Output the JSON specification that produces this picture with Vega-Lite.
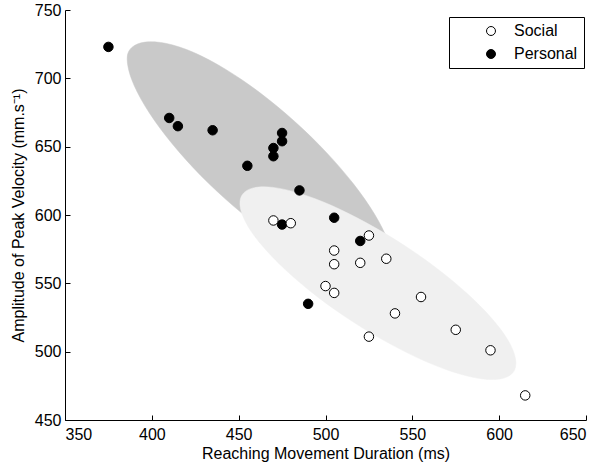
{
  "$schema": "https://vega.github.io/schema/vega-lite/v6.json",
  "description": "Reaching movement duration vs amplitude of peak velocity, social vs personal",
  "autosize": {"type": "none"},
  "padding": {"left": 65, "top": 10, "right": 20, "bottom": 50},
  "width": 521,
  "height": 410,
  "background": "white",
  "config": {
    "view": {"stroke": null},
    "font": "Liberation Sans",
    "axis": {
      "domainColor": "#000000",
      "domainWidth": 1,
      "tickColor": "#000000",
      "tickSize": -5,
      "labelColor": "#000000",
      "labelFontSize": 16,
      "titleFontSize": 16,
      "titleFontWeight": "normal",
      "titleColor": "#000000",
      "grid": false
    }
  },
  "datasets": {
    "points": [
      {"duration": 375, "velocity": 723, "condition": "Personal"},
      {"duration": 410, "velocity": 671, "condition": "Personal"},
      {"duration": 415, "velocity": 665, "condition": "Personal"},
      {"duration": 435, "velocity": 662, "condition": "Personal"},
      {"duration": 455, "velocity": 636, "condition": "Personal"},
      {"duration": 470, "velocity": 649, "condition": "Personal"},
      {"duration": 470, "velocity": 643, "condition": "Personal"},
      {"duration": 475, "velocity": 660, "condition": "Personal"},
      {"duration": 475, "velocity": 654, "condition": "Personal"},
      {"duration": 485, "velocity": 618, "condition": "Personal"},
      {"duration": 505, "velocity": 598, "condition": "Personal"},
      {"duration": 520, "velocity": 581, "condition": "Personal"},
      {"duration": 475, "velocity": 593, "condition": "Personal"},
      {"duration": 490, "velocity": 535, "condition": "Personal"},
      {"duration": 470, "velocity": 596, "condition": "Social"},
      {"duration": 480, "velocity": 594, "condition": "Social"},
      {"duration": 525, "velocity": 585, "condition": "Social"},
      {"duration": 505, "velocity": 574, "condition": "Social"},
      {"duration": 505, "velocity": 564, "condition": "Social"},
      {"duration": 520, "velocity": 565, "condition": "Social"},
      {"duration": 535, "velocity": 568, "condition": "Social"},
      {"duration": 500, "velocity": 548, "condition": "Social"},
      {"duration": 505, "velocity": 543, "condition": "Social"},
      {"duration": 555, "velocity": 540, "condition": "Social"},
      {"duration": 540, "velocity": 528, "condition": "Social"},
      {"duration": 525, "velocity": 511, "condition": "Social"},
      {"duration": 575, "velocity": 516, "condition": "Social"},
      {"duration": 595, "velocity": 501, "condition": "Social"},
      {"duration": 615, "velocity": 468, "condition": "Social"}
    ],
    "personalEllipse": [
      {"k": 0, "duration": 535.7, "velocity": 556.0},
      {"k": 1, "duration": 528.0, "velocity": 551.6},
      {"k": 2, "duration": 515.8, "velocity": 553.1},
      {"k": 3, "duration": 500.0, "velocity": 560.7},
      {"k": 4, "duration": 481.6, "velocity": 573.6},
      {"k": 5, "duration": 461.9, "velocity": 591.2},
      {"k": 6, "duration": 442.1, "velocity": 612.0},
      {"k": 7, "duration": 423.7, "velocity": 634.8},
      {"k": 8, "duration": 408.0, "velocity": 658.0},
      {"k": 9, "duration": 396.0, "velocity": 679.9},
      {"k": 10, "duration": 388.4, "velocity": 699.1},
      {"k": 11, "duration": 385.8, "velocity": 714.4},
      {"k": 12, "duration": 388.5, "velocity": 722.6},
      {"k": 13, "duration": 396.2, "velocity": 726.5},
      {"k": 14, "duration": 408.4, "velocity": 725.5},
      {"k": 15, "duration": 424.2, "velocity": 718.9},
      {"k": 16, "duration": 442.6, "velocity": 706.5},
      {"k": 17, "duration": 462.3, "velocity": 689.4},
      {"k": 18, "duration": 482.1, "velocity": 668.6},
      {"k": 19, "duration": 500.5, "velocity": 645.8},
      {"k": 20, "duration": 516.2, "velocity": 622.6},
      {"k": 21, "duration": 528.2, "velocity": 600.7},
      {"k": 22, "duration": 535.8, "velocity": 581.5},
      {"k": 23, "duration": 538.4, "velocity": 566.2}
    ],
    "socialEllipse": [
      {"k": 0, "duration": 608.4, "velocity": 485.5},
      {"k": 1, "duration": 602.0, "velocity": 480.4},
      {"k": 2, "duration": 590.7, "velocity": 480.0},
      {"k": 3, "duration": 575.3, "velocity": 484.4},
      {"k": 4, "duration": 556.8, "velocity": 493.3},
      {"k": 5, "duration": 536.6, "velocity": 506.1},
      {"k": 6, "duration": 515.8, "velocity": 521.8},
      {"k": 7, "duration": 496.0, "velocity": 539.5},
      {"k": 8, "duration": 478.6, "velocity": 557.9},
      {"k": 9, "duration": 464.7, "velocity": 575.8},
      {"k": 10, "duration": 455.3, "velocity": 591.8},
      {"k": 11, "duration": 451.0, "velocity": 605.2},
      {"k": 12, "duration": 452.0, "velocity": 614.7},
      {"k": 13, "duration": 458.4, "velocity": 619.8},
      {"k": 14, "duration": 469.7, "velocity": 620.2},
      {"k": 15, "duration": 485.1, "velocity": 615.8},
      {"k": 16, "duration": 503.6, "velocity": 606.9},
      {"k": 17, "duration": 523.8, "velocity": 594.1},
      {"k": 18, "duration": 544.6, "velocity": 578.4},
      {"k": 19, "duration": 564.4, "velocity": 560.7},
      {"k": 20, "duration": 581.8, "velocity": 542.3},
      {"k": 21, "duration": 595.7, "velocity": 524.4},
      {"k": 22, "duration": 605.1, "velocity": 508.4},
      {"k": 23, "duration": 609.4, "velocity": 495.0}
    ]
  },
  "encoding": {
    "x": {
      "field": "duration",
      "type": "quantitative",
      "title": "Reaching Movement Duration (ms)",
      "scale": {"domain": [350, 650], "nice": false, "zero": false},
      "axis": {"values": [350, 400, 450, 500, 550, 600, 650], "labelPadding": 11, "titlePadding": 3}
    },
    "y": {
      "field": "velocity",
      "type": "quantitative",
      "title": "Amplitude of Peak Velocity (mm.s⁻¹)",
      "scale": {"domain": [450, 750], "nice": false, "zero": false},
      "axis": {"values": [450, 500, 550, 600, 650, 700, 750], "labelPadding": 9, "titlePadding": 8}
    }
  },
  "layer": [
    {
      "data": {"name": "personalEllipse"},
      "mark": {"type": "line", "interpolate": "cardinal-closed", "fill": "#c9c9c9", "stroke": "#c9c9c9", "strokeWidth": 0.5},
      "encoding": {"order": {"field": "k", "type": "quantitative"}}
    },
    {
      "data": {"name": "socialEllipse"},
      "mark": {"type": "line", "interpolate": "cardinal-closed", "fill": "#f0f0f0", "stroke": "#f0f0f0", "strokeWidth": 0.5},
      "encoding": {"order": {"field": "k", "type": "quantitative"}}
    },
    {
      "data": {"name": "points"},
      "mark": {"type": "point", "shape": "circle", "filled": true, "size": 90, "stroke": "#000000", "strokeWidth": 1, "opacity": 1},
      "encoding": {
        "fill": {
          "field": "condition",
          "type": "nominal",
          "title": null,
          "scale": {"domain": ["Social", "Personal"], "range": ["#ffffff", "#000000"]},
          "legend": {
            "orient": "none",
            "legendX": 384,
            "legendY": 7,
            "direction": "vertical",
            "strokeColor": "#000000",
            "fillColor": "#ffffff",
            "padding": 6,
            "symbolSize": 80,
            "symbolStrokeColor": "#000000",
            "symbolStrokeWidth": 1,
            "symbolOffset": 28,
            "labelFontSize": 16,
            "labelColor": "#000000",
            "labelOffset": 15,
            "rowPadding": 7
          }
        }
      }
    }
  ]
}
